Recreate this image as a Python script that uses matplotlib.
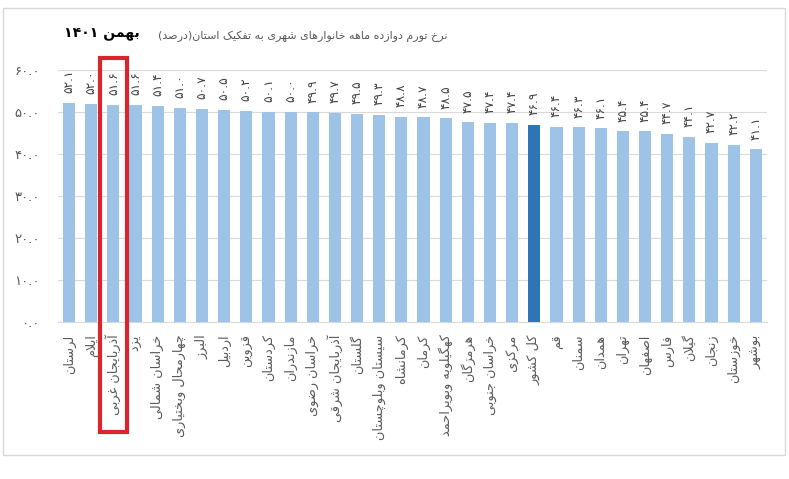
import matplotlib
matplotlib.use("Agg")
import matplotlib.pyplot as plt
from matplotlib.patches import Rectangle
from matplotlib.transforms import blended_transform_factory

# ---------------- data ----------------
provinces = ["لرستان", "ایلام", "آذربایجان غربی", "یزد", "خراسان شمالی",
             "چهارمحال وبختیاری", "البرز", "اردبیل", "قزوین", "کردستان",
             "مازندران", "خراسان رضوی", "آذربایجان شرقی", "گلستان",
             "سیستان وبلوچستان", "کرمانشاه", "کرمان", "کهگیلویه وبویراحمد",
             "هرمزگان", "خراسان جنوبی", "مرکزی", "کل کشور", "قم", "سمنان",
             "همدان", "تهران", "اصفهان", "فارس", "گیلان", "زنجان",
             "خوزستان", "بوشهر"]
inflation = [52.1, 52.0, 51.6, 51.6, 51.4, 51.0, 50.7, 50.5, 50.2, 50.1,
             50.0, 49.9, 49.7, 49.5, 49.3, 48.8, 48.7, 48.5, 47.5, 47.4,
             47.4, 46.9, 46.4, 46.3, 46.1, 45.4, 45.4, 44.7, 44.1, 42.7,
             42.2, 41.1]
national_label = "کل کشور"
highlight_label = "آذربایجان غربی"
yticks = [0, 10, 20, 30, 40, 50, 60]
title_text = "نرخ تورم دوازده ماهه خانوارهای شهری به تفکیک استان(درصد)"
period_text = "بهمن ۱۴۰۱"

# ---------------- minimal Persian shaping + bidi ----------------
FORMS = {
    'ء': (0xFE80, None, None, None),
    'آ': (0xFE81, 0xFE82, None, None),
    'أ': (0xFE83, 0xFE84, None, None),
    'ؤ': (0xFE85, 0xFE86, None, None),
    'إ': (0xFE87, 0xFE88, None, None),
    'ئ': (0xFE89, 0xFE8A, 0xFE8B, 0xFE8C),
    'ا': (0xFE8D, 0xFE8E, None, None),
    'ب': (0xFE8F, 0xFE90, 0xFE91, 0xFE92),
    'ة': (0xFE93, 0xFE94, None, None),
    'ت': (0xFE95, 0xFE96, 0xFE97, 0xFE98),
    'ث': (0xFE99, 0xFE9A, 0xFE9B, 0xFE9C),
    'ج': (0xFE9D, 0xFE9E, 0xFE9F, 0xFEA0),
    'ح': (0xFEA1, 0xFEA2, 0xFEA3, 0xFEA4),
    'خ': (0xFEA5, 0xFEA6, 0xFEA7, 0xFEA8),
    'د': (0xFEA9, 0xFEAA, None, None),
    'ذ': (0xFEAB, 0xFEAC, None, None),
    'ر': (0xFEAD, 0xFEAE, None, None),
    'ز': (0xFEAF, 0xFEB0, None, None),
    'س': (0xFEB1, 0xFEB2, 0xFEB3, 0xFEB4),
    'ش': (0xFEB5, 0xFEB6, 0xFEB7, 0xFEB8),
    'ص': (0xFEB9, 0xFEBA, 0xFEBB, 0xFEBC),
    'ض': (0xFEBD, 0xFEBE, 0xFEBF, 0xFEC0),
    'ط': (0xFEC1, 0xFEC2, 0xFEC3, 0xFEC4),
    'ظ': (0xFEC5, 0xFEC6, 0xFEC7, 0xFEC8),
    'ع': (0xFEC9, 0xFECA, 0xFECB, 0xFECC),
    'غ': (0xFECD, 0xFECE, 0xFECF, 0xFED0),
    'ف': (0xFED1, 0xFED2, 0xFED3, 0xFED4),
    'ق': (0xFED5, 0xFED6, 0xFED7, 0xFED8),
    'ك': (0xFED9, 0xFEDA, 0xFEDB, 0xFEDC),
    'ل': (0xFEDD, 0xFEDE, 0xFEDF, 0xFEE0),
    'م': (0xFEE1, 0xFEE2, 0xFEE3, 0xFEE4),
    'ن': (0xFEE5, 0xFEE6, 0xFEE7, 0xFEE8),
    'ه': (0xFEE9, 0xFEEA, 0xFEEB, 0xFEEC),
    'و': (0xFEED, 0xFEEE, None, None),
    'ى': (0xFEEF, 0xFEF0, None, None),
    'ي': (0xFEF1, 0xFEF2, 0xFEF3, 0xFEF4),
    'پ': (0xFB56, 0xFB57, 0xFB58, 0xFB59),
    'چ': (0xFB7A, 0xFB7B, 0xFB7C, 0xFB7D),
    'ژ': (0xFB8A, 0xFB8B, None, None),
    'ک': (0xFB8E, 0xFB8F, 0xFB90, 0xFB91),
    'گ': (0xFB92, 0xFB93, 0xFB94, 0xFB95),
    'ی': (0xFBFC, 0xFBFD, 0xFBFE, 0xFBFF),
    '\uE001': (0xFEFB, 0xFEFC, None, None),   # lam-alef
    '\uE002': (0xFEF5, 0xFEF6, None, None),   # lam-alef madda
}


def shape(text):
    s = text.replace('لا', '\uE001').replace('لآ', '\uE002')
    out = []
    n = len(s)
    for i, c in enumerate(s):
        f = FORMS.get(c)
        if f is None:
            out.append(c)
            continue
        prev = s[i - 1] if i > 0 else None
        nxt = s[i + 1] if i + 1 < n else None
        cp = prev in FORMS and FORMS[prev][2] is not None
        cn = f[2] is not None and nxt in FORMS
        if cp and cn:
            code = f[3]
        elif cp:
            code = f[1]
        elif cn:
            code = f[2]
        else:
            code = f[0]
        out.append(chr(code))
    return ''.join(out)


DIGITS = set('۰۱۲۳۴۵۶۷۸۹0123456789.')
MIRROR = {'(': ')', ')': '('}


def fa(text):
    shaped = shape(text)
    runs, cur, cur_d = [], '', None
    for ch in shaped:
        d = ch in DIGITS
        if cur and d != cur_d:
            runs.append((cur, cur_d))
            cur = ''
        cur += ch
        cur_d = d
    if cur:
        runs.append((cur, cur_d))
    vis = []
    for r, d in reversed(runs):
        if d:
            vis.append(r)
        else:
            vis.append(''.join(MIRROR.get(c, c) for c in reversed(r)))
    return ''.join(vis)


def fa_num(v, fmt="{:.1f}"):
    return fmt.format(v).translate(str.maketrans('0123456789', '۰۱۲۳۴۵۶۷۸۹'))


# ---------------- plot ----------------
plt.rcParams['font.family'] = ['DejaVu Sans']
GRAY = '#595959'
LIGHT = '#9DC3E6'
DARK = '#2E75B6'

fig = plt.figure(figsize=(7.89, 4.79), dpi=100)
ax = fig.add_axes([0.0735, 0.328, 0.8985, 0.526])

x = list(range(len(provinces)))
colors = [DARK if p == national_label else LIGHT for p in provinces]
ax.bar(x, inflation, width=0.55, color=colors, zorder=3)

for xi, v in zip(x, inflation):
    ax.annotate(fa_num(v), (xi, v), xytext=(0, 7), textcoords='offset points',
                rotation=90, ha='center', va='bottom', fontsize=8.8,
                color='#404040')

ax.set_xlim(-0.5, len(provinces) - 0.5)
ax.set_ylim(0, 60)
ax.set_yticks(yticks)
ax.set_yticklabels([fa_num(t) for t in yticks], fontsize=9.5, color=GRAY)
ax.set_xticks(x)
ax.set_xticklabels([fa(p) for p in provinces], rotation=90, va='top',
                   ha='center', fontsize=9.3, color=GRAY)
ax.tick_params(axis='both', length=0)
ax.tick_params(axis='y', pad=13)
ax.tick_params(axis='x', pad=9)
ax.grid(axis='y', color='#D9D9D9', linewidth=0.8, zorder=0)
for sp in ['top', 'left', 'right']:
    ax.spines[sp].set_visible(False)
ax.spines['bottom'].set_color('#D9D9D9')
ax.spines['bottom'].set_linewidth(0.8)

# titles (font size fitted to the reference's text widths)
renderer = fig.canvas.get_renderer()


def fitted_text(xr, yc, s, width_px, size, max_size, **kw):
    t = fig.text(xr, yc, s, fontsize=size, **kw)
    w = t.get_window_extent(renderer).width
    t.set_fontsize(min(max_size, size * width_px / w))
    return t


fitted_text(448 / 789, 1 - 36 / 479, fa(title_text), 292, 10, 11,
            ha='right', va='center', color=GRAY)
fitted_text(140 / 789, 1 - 33 / 479, fa(period_text), 76, 14, 15,
            ha='right', va='center', color='black', fontweight='bold')

# highlight box around the chosen province
hi = provinces.index(highlight_label)
trans = blended_transform_factory(ax.transData, fig.transFigure)
ax.add_patch(Rectangle((hi - 0.62, 1 - 432 / 479), 1.24, (432 - 58) / 479,
                       transform=trans, fill=False, edgecolor='#D9262E',
                       linewidth=3, clip_on=False, zorder=5))

# outer frame
fig.patches.append(Rectangle((3 / 789, 1 - 455 / 479), 782 / 789, 447 / 479,
                             transform=fig.transFigure, fill=False,
                             edgecolor='#D9D9D9', linewidth=1))

fig.savefig('out.png', dpi=100)
